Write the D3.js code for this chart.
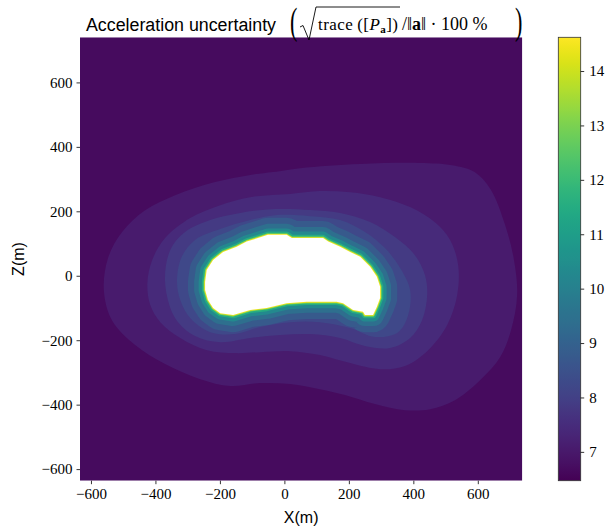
<!DOCTYPE html>
<html><head><meta charset="utf-8">
<script src="https://cdn.jsdelivr.net/npm/d3@7"></script>
<style>body{margin:0;background:#fff}svg{display:block}</style>
</head><body>
<svg id="chart" width="616" height="532"></svg>
<script>
// ---------------- data ----------------
const xTicks = [-600, -400, -200, 0, 200, 400, 600];
const zTicks = [-600, -400, -200, 0, 200, 400, 600];
const cbTicks = [7, 8, 9, 10, 11, 12, 13, 14];
const xDomain = [-634, 738];
const zDomain = [-636, 740];
const colorDomain = [6.47, 14.62];

// uncertainty (%) of the far-field background band
const backgroundLevel = 6.7;
// outer contour boundaries (X, Z in m) and the level of the band inside each
const outerLevels = [7.05, 7.45, 7.85, 8.25];
const boundary1 = [[-35,322],[49,334],[235,347],[421,350],[520,343],[590,322],[640,268],[684,160],[712,50],[722,-60],[703,-169],[669,-253],[607,-324],[529,-386],[452,-414],[374,-417],[281,-398],[188,-370],[110,-352],[18,-336],[-75,-333],[-168,-342],[-261,-321],[-370,-274],[-463,-215],[-535,-138],[-560,-45],[-547,55],[-504,135],[-432,203],[-339,250],[-215,291],[-106,313]];
const boundary2 = [[-425,-23],[-416,-91],[-385,-144],[-323,-193],[-240,-231],[-153,-240],[-75,-237],[18,-234],[110,-246],[204,-271],[297,-290],[374,-280],[446,-231],[505,-153],[536,-60],[539,33],[514,111],[467,166],[390,213],[297,244],[204,259],[110,263],[18,254],[-106,244],[-199,219],[-292,179],[-370,117],[-410,49]];
const boundary3 = [[-370,-20],[-354,80],[-308,136],[-230,173],[-137,195],[-29,207],[80,204],[173,195],[266,167],[343,120],[405,64],[436,2],[443,-60],[427,-138],[390,-193],[328,-224],[250,-218],[173,-193],[80,-181],[-13,-184],[-106,-193],[-199,-206],[-277,-187],[-339,-131]];
const boundary4 = [[-333,-20],[-320,55],[-277,111],[-199,145],[-106,173],[-29,188],[80,185],[173,173],[250,136],[312,86],[359,24],[390,-44],[384,-122],[353,-175],[281,-190],[204,-162],[110,-144],[18,-144],[-75,-159],[-153,-181],[-230,-175],[-292,-131],[-323,-75]];
// thin shells hugging the surface: distance from surface (m) and level inside
const innerOffsets = [53, 34, 20, 10, 5, 2.5];
const innerLevels = [8.75, 9.4, 10.3, 11.5, 12.9, 14.4];
// asteroid outline (no data inside)
const body = [[-246,-19],[-241,18],[-221,49],[-190,74],[-148,90],[-117,106],[-82,117],[-51,127],[7,127],[23,117],[120,117],[136,106],[173,90],[204,74],[235,59],[266,28],[287,-3],[297,-34],[297,-69],[287,-96],[275,-122],[250,-122],[244,-112],[213,-106],[182,-85],[162,-81],[69,-81],[7,-85],[-55,-100],[-106,-106],[-159,-122],[-199,-116],[-221,-100],[-237,-75],[-246,-44]];

// ---------------- layout ----------------
const P = {l: 80, r: 522.3, t: 37.3, b: 480.7};
const CB = {l: 558.3, r: 580.7};
const svg = d3.select('#chart');
const x = d3.scaleLinear().domain(xDomain).range([P.l, P.r]);
const z = d3.scaleLinear().domain(zDomain).range([P.b, P.t]);
const cval = d3.scaleLinear().domain(colorDomain).range([0, 1]).clamp(true);
const color = v => d3.interpolateViridis(cval(v));

const defs = svg.append('defs');
defs.append('clipPath').attr('id', 'clip').append('rect')
  .attr('x', P.l).attr('y', P.t).attr('width', P.r - P.l).attr('height', P.b - P.t);

const g = svg.append('g').attr('clip-path', 'url(#clip)');
g.append('rect').attr('x', P.l).attr('y', P.t).attr('width', P.r - P.l).attr('height', P.b - P.t)
  .attr('fill', color(backgroundLevel));

const smooth = d3.line().x(d => x(d[0])).y(d => z(d[1])).curve(d3.curveCatmullRomClosed.alpha(0.5));
[boundary1, boundary2, boundary3, boundary4].forEach((b, i) => {
  g.append('path').attr('d', smooth(b)).attr('fill', color(outerLevels[i]));
});

const bodyLine = d3.line().x(d => x(d[0])).y(d => z(d[1]));
const bodyPath = bodyLine(body) + 'Z';
innerOffsets.forEach((o, i) => {
  const w = 2 * Math.abs(x(o) - x(0));
  g.append('path').attr('d', bodyPath)
    .attr('fill', color(innerLevels[i]))
    .attr('stroke', color(innerLevels[i]))
    .attr('stroke-width', w).attr('stroke-linejoin', 'round');
});
g.append('path').attr('d', bodyPath).attr('fill', '#ffffff');

// ---------------- axes ----------------
const tickFont = "'Liberation Serif', 'DejaVu Serif', serif";
const fmt = v => (v < 0 ? '\u2212' + Math.abs(v) : '' + v);
const xa = svg.append('g').attr('transform', `translate(0,${P.b})`)
  .call(d3.axisBottom(x).tickValues(xTicks).tickSize(3.5).tickPadding(4).tickFormat(fmt));
const za = svg.append('g').attr('transform', `translate(${P.l},0)`)
  .call(d3.axisLeft(z).tickValues(zTicks).tickSize(3.5).tickPadding(4).tickFormat(fmt));
[xa, za].forEach(a => {
  a.select('.domain').remove();
  a.selectAll('.tick line').attr('stroke', '#000').attr('stroke-width', 0.8);
  a.selectAll('.tick text').attr('font-family', tickFont).attr('font-size', 15).attr('fill', '#000');
});

svg.append('text').attr('x', (P.l + P.r) / 2).attr('y', 523).attr('text-anchor', 'middle')
  .attr('font-family', "'Liberation Sans', Arial, sans-serif").attr('font-size', 16).text('X(m)');
svg.append('text').attr('transform', `translate(24,${(P.t + P.b) / 2}) rotate(-90)`).attr('text-anchor', 'middle')
  .attr('font-family', "'Liberation Sans', Arial, sans-serif").attr('font-size', 16).text('Z(m)');

// ---------------- colorbar ----------------
const cb = d3.scaleLinear().domain(colorDomain).range([P.b, P.t]);
const grad = defs.append('linearGradient').attr('id', 'cbgrad')
  .attr('x1', 0).attr('y1', 1).attr('x2', 0).attr('y2', 0);
d3.range(0, 1.0001, 0.02).forEach(t => {
  grad.append('stop').attr('offset', t).attr('stop-color', d3.interpolateViridis(t));
});
svg.append('rect').attr('x', CB.l).attr('y', P.t).attr('width', CB.r - CB.l).attr('height', P.b - P.t)
  .attr('fill', 'url(#cbgrad)').attr('stroke', '#333').attr('stroke-width', 0.8);
const ca = svg.append('g').attr('transform', `translate(${CB.r},0)`)
  .call(d3.axisRight(cb).tickValues(cbTicks).tickSize(3.5).tickPadding(5).tickFormat(d3.format('d')));
ca.select('.domain').remove();
ca.selectAll('.tick line').attr('stroke', '#000').attr('stroke-width', 0.8);
ca.selectAll('.tick text').attr('font-family', tickFont).attr('font-size', 15).attr('fill', '#000');

// ---------------- title ----------------
const serif = "'Liberation Serif', 'DejaVu Serif', serif";
svg.append('text').attr('x', 86).attr('y', 31)
  .attr('font-family', "'Liberation Sans', Arial, sans-serif").attr('font-size', 18)
  .attr('textLength', 190).attr('lengthAdjust', 'spacingAndGlyphs')
  .text('Acceleration uncertainty');
svg.append('text').attr('transform', 'translate(290,34) scale(0.6,1)')
  .attr('font-family', serif).attr('font-size', 37).text('(');
svg.append('text').attr('transform', 'translate(515,34) scale(0.6,1)')
  .attr('font-family', serif).attr('font-size', 37).text(')');
// radical sign and vinculum
svg.append('path').attr('d', 'M300,27 L303,25.5 L309,40 L316,7 L400,7')
  .attr('fill', 'none').attr('stroke', '#000').attr('stroke-width', 0.9);
const t1 = svg.append('text').attr('x', 318).attr('y', 30).attr('font-family', serif).attr('font-size', 17)
  .attr('textLength', 80).attr('lengthAdjust', 'spacing');
t1.append('tspan').text('trace\u2009([');
t1.append('tspan').attr('font-style', 'italic').text('P');
t1.append('tspan').attr('font-weight', 'bold').attr('font-size', 11).attr('dy', 3).text('a');
t1.append('tspan').attr('dy', -3).text('])');
const t2 = svg.append('text').attr('x', 402).attr('y', 30).attr('font-family', serif).attr('font-size', 18);
t2.append('tspan').text('/\u2016');
t2.append('tspan').attr('font-weight', 'bold').text('a');
t2.append('tspan').text('\u2016 \u00b7 100 %');
</script>
</body></html>
